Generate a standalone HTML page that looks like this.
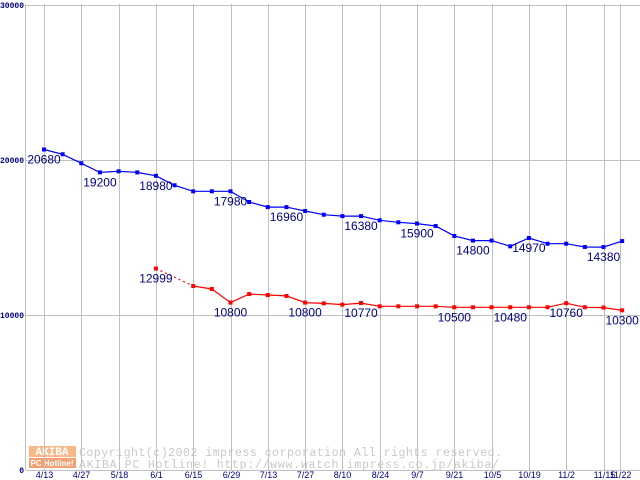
<!DOCTYPE html>
<html><head><meta charset="utf-8"><style>
html,body{margin:0;padding:0;background:#fff;width:640px;height:480px;overflow:hidden}
svg{display:block}
</style></head><body>
<svg id="chart" width="640" height="480" xmlns="http://www.w3.org/2000/svg"></svg>
<script>
const xLabels=["4/13","4/27","5/18","6/1","6/15","6/29","7/13","7/27","8/10","8/24","9/7","9/21","10/5","10/19","11/2","11/15","11/22"];
const yTicks=[0,10000,20000,30000];
const blueValues=[20680,20370,19790,19200,19270,19200,18980,18370,17980,17980,17980,17290,16960,16960,16710,16470,16380,16380,16110,15980,15900,15740,15100,14800,14800,14430,14970,14600,14600,14390,14380,14770];
const redValues=[null,null,null,null,null,null,12999,null,11870,11680,10800,11350,11290,11230,10800,10750,10670,10770,10560,10560,10560,10560,10500,10500,10500,10500,10500,10500,10760,10500,10480,10300];
const blueLabelIdx=[0,3,6,10,13,17,20,23,26,30];
const redLabelIdx=[6,10,14,17,22,25,28,31];
const redLabelText=["12999","10800","10800","10770","10500","10480","10760","10300"];
const blueLabelText=["20680","19200","18980","17980","16960","16380","15900","14800","14970","14380"];

const NS="http://www.w3.org/2000/svg";
const svg=document.getElementById('chart');
function X(i){return 44+i*18.65;}
function Y(v){return 470-v*0.0155;}
function gridX(k){return k<16?44+k*37.3:620;}
function mk(tag,attrs){const e=document.createElementNS(NS,tag);for(const k in attrs)e.setAttribute(k,attrs[k]);svg.appendChild(e);return e;}

// watermark
let g=mk('rect',{x:29,y:446,width:47,height:11,fill:'#f8b888'});


g=mk('rect',{x:29,y:458,width:47,height:10,fill:'#f4a070'});


let t=mk('text',{x:52,y:455,'font-family':'Liberation Mono, monospace','font-size':11,'font-weight':'bold',fill:'#fff','text-anchor':'middle'});t.textContent='AKIBA';


t=mk('text',{x:52,y:466,'font-family':'Liberation Sans, sans-serif','font-size':8,'font-weight':'bold',fill:'#fff','text-anchor':'middle'});t.textContent='PC Hotline!';


t=mk('text',{x:79,y:456,'font-family':'Liberation Mono, monospace','font-size':11.5,fill:'#c8c8c8',textLength:423,lengthAdjust:'spacing'});t.textContent='Copyright(c)2002 impress corporation All rights reserved.';


t=mk('text',{x:79,y:468,'font-family':'Liberation Mono, monospace','font-size':11.5,fill:'#c8c8c8',textLength:420,lengthAdjust:'spacing'});t.textContent='AKIBA PC Hotline!  http://www.watch.impress.co.jp/akiba/';



// grid
for(const v of yTicks){
  const l=mk('line',{x1:25.5,x2:640,y1:Math.round(Y(v))+0.5,y2:Math.round(Y(v))+0.5,stroke:'#c0c0c0','stroke-width':1});
  
  
  const s=String(v);
  const attrs={x:24,y:Math.round(Y(v))+3,'font-family':'Liberation Mono, monospace','font-size':8,'font-weight':'bold',fill:'#000080','text-anchor':'end'};
  if(s.length>1){attrs.textLength=s.length*4.8;attrs.lengthAdjust='spacingAndGlyphs';}
  const tx=mk('text',attrs);
  tx.textContent=s;
  
  
}
let ax=mk('line',{x1:25.5,x2:25.5,y1:4,y2:470,stroke:'#c0c0c0'});


xLabels.forEach((lab,k)=>{
  const x=Math.round(gridX(k))+0.5;
  const l=mk('line',{x1:x,x2:x,y1:4,y2:470,stroke:'#c0c0c0'});
  
  
  const tx=mk('text',{x:x,y:478,'font-family':'Liberation Sans, sans-serif','font-size':9,fill:'#000080','text-anchor':'middle'});
  tx.textContent=lab;
  
  
});

function series(vals,color,name){
  let d='',dash='',prev=-1;
  vals.forEach((v,i)=>{
    if(v==null)return;
    const s=(prev<0?'M':'L')+X(i).toFixed(1)+' '+Y(v).toFixed(1);
    if(prev>=0&&i-prev>1){dash+='M'+X(prev).toFixed(1)+' '+Y(vals[prev]).toFixed(1)+'L'+X(i).toFixed(1)+' '+Y(v).toFixed(1);d+='M'+X(i).toFixed(1)+' '+Y(v).toFixed(1);}
    else d+=s;
    prev=i;
  });
  const p=mk('path',{d:d,fill:'none',stroke:color,'stroke-width':1.2});
  
  
  if(dash){const q=mk('path',{d:dash,fill:'none',stroke:color,'stroke-width':1.2,'stroke-dasharray':'2 3'});
    
    }
  vals.forEach((v,i)=>{
    if(v==null)return;
    const r=mk('rect',{x:X(i)-2,y:Y(v)-2,width:4,height:4,fill:color});
    
    
  });
}
series(blueValues,'#0000ff','blue-series');
series(redValues,'#ff0000','red-series');

function labels(idx,texts,vals,name){
  idx.forEach((i,k)=>{
    const tx=mk('text',{x:X(i),y:Y(vals[i])+14,'font-family':'Liberation Sans, sans-serif','font-size':12,fill:'#000080','text-anchor':'middle'});
    tx.textContent=texts[k];
    
    
  });
}
labels(blueLabelIdx,blueLabelText,blueValues,'blue-value-label');
labels(redLabelIdx,redLabelText,redValues,'red-value-label');
</script>
</body></html>
